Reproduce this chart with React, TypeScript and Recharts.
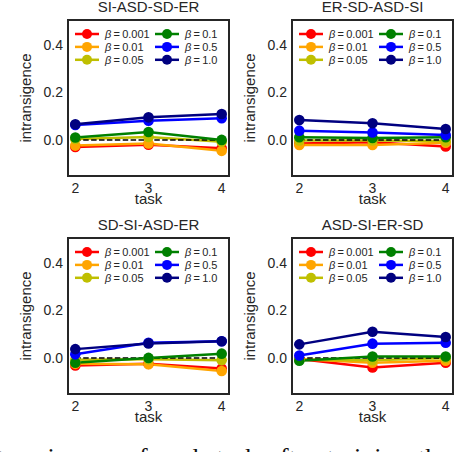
import { LineChart, Line, XAxis, YAxis, ReferenceArea, Legend } from "recharts";

// Matplotlib / seaborn-white look, literal colours for Recharts.
const INK = "#262626";
const SANS = "'Liberation Sans', Arial, sans-serif";

const TASKS = [2, 3, 4];
const BETAS = ["0.001", "0.01", "0.05", "0.1", "0.5", "1.0"];
const COLORS = ["#FF0000", "#FFA500", "#BFBF00", "#008000", "#0000FF", "#000080"];
const BASELINE = [0, 0, 0];

// rows: beta 0.001, 0.01, 0.05, 0.1, 0.5, 1.0 ; columns: task 2, 3, 4
const SI_ASD_SD_ER = [
  [-0.03, -0.02, -0.035],
  [-0.024, -0.015, -0.046],
  [0.004, 0.012, -0.008],
  [0.01, 0.033, 0.0],
  [0.063, 0.081, 0.091],
  [0.066, 0.095, 0.109],
];
const ER_SD_ASD_SI = [
  [-0.015, -0.01, -0.028],
  [-0.021, -0.021, -0.012],
  [-0.002, -0.002, -0.005],
  [0.011, 0.008, 0.011],
  [0.039, 0.031, 0.021],
  [0.084, 0.07, 0.046],
];
const SD_SI_ASD_ER = [
  [-0.032, -0.025, -0.045],
  [-0.025, -0.027, -0.055],
  [-0.008, -0.006, -0.01],
  [-0.02, 0.0, 0.018],
  [0.015, 0.064, 0.07],
  [0.037, 0.061, 0.07],
];
const ASD_SI_ER_SD = [
  [-0.005, -0.04, -0.02],
  [-0.005, -0.02, -0.012],
  [-0.008, -0.01, 0.0],
  [-0.012, 0.006, 0.006],
  [0.01, 0.06, 0.064],
  [0.057, 0.11, 0.088],
];

const PANELS = [
  { title: "SI-ASD-SD-ER", values: SI_ASD_SD_ER, left: 0, top: 0 },
  { title: "ER-SD-ASD-SI", values: ER_SD_ASD_SI, left: 224, top: 0 },
  { title: "SD-SI-ASD-ER", values: SD_SI_ASD_ER, left: 0, top: 218 },
  { title: "ASD-SI-ER-SD", values: ASD_SI_ER_SD, left: 224, top: 218 },
];

const X_DOMAIN: [number, number] = [1.9, 4.1];
const Y_DOMAIN: [number, number] = [-0.152, 0.505];

function toRows(values: number[][]) {
  return TASKS.map((task, i) => {
    const row: Record<string, number> = { task, zero: BASELINE[i] };
    values.forEach((series, b) => {
      row[`b${b}`] = series[i];
    });
    return row;
  });
}

function LegendBox({ payload }: any) {
  const items = (payload ?? []).filter((p: any) => p.dataKey !== "zero");
  return (
    <svg width={161} height={50} style={{ display: "block" }}>
      {items.map((item: any, i: number) => {
        const col = Math.floor(i / 3);
        const row = i % 3;
        const x0 = col === 0 ? 7 : 87;
        const y = 14 + row * 12.9;
        return (
          <g key={item.value}>
            <line x1={x0} x2={x0 + 24} y1={y} y2={y} stroke={item.color} strokeWidth={2.5} />
            <circle cx={x0 + 12} cy={y} r={5} fill={item.color} />
            <text
              x={x0 + 30}
              y={y}
              dominantBaseline="central"
              fontFamily={SANS}
              fontSize={11}
              fill={INK}
            >
              <tspan fontStyle="italic">β</tspan>
              {"\u2009=\u2009" + item.value}
            </text>
          </g>
        );
      })}
    </svg>
  );
}

function Panel({ title, values, left, top }: (typeof PANELS)[number]) {
  const data = toRows(values);
  return (
    <div style={{ position: "absolute", left, top, width: 232, height: 220 }}>
      <div
        style={{
          position: "absolute",
          left: 68,
          top: -0.7,
          width: 161,
          textAlign: "center",
          fontFamily: SANS,
          fontSize: 15,
          lineHeight: "15px",
          color: INK,
          whiteSpace: "nowrap",
        }}
      >
        {title}
      </div>
      <LineChart width={232} height={220} data={data} margin={{ top: 20, right: 3, bottom: 0, left: 0 }}>
        <XAxis
          dataKey="task"
          type="number"
          domain={X_DOMAIN}
          ticks={TASKS}
          allowDataOverflow
          height={44}
          axisLine={false}
          tickLine={false}
          tickSize={0}
          tickMargin={7}
          tick={{ fill: INK, fontSize: 14, fontFamily: SANS }}
          label={(props: any) => {
            const vb = props.viewBox;
            return (
              <text x={vb.x + vb.width / 2} y={vb.y + 28} textAnchor="middle" fontFamily={SANS} fontSize={15} fill={INK}>
                task
              </text>
            );
          }}
        />
        <YAxis
          type="number"
          domain={Y_DOMAIN}
          ticks={[0, 0.2, 0.4]}
          allowDataOverflow
          width={68}
          axisLine={false}
          tickLine={false}
          tickSize={0}
          tickMargin={5}
          tickFormatter={(v: number) => v.toFixed(1)}
          tick={{ fill: INK, fontSize: 14, fontFamily: SANS }}
          label={(props: any) => {
            const vb = props.viewBox;
            const cy = vb.y + vb.height / 2;
            return (
              <text
                transform={`translate(31, ${cy}) rotate(-90)`}
                textAnchor="middle"
                fontFamily={SANS}
                fontSize={15}
                fill={INK}
              >
                intransigence
              </text>
            );
          }}
        />
        {BETAS.slice(0, 3).map((beta, b) => (
          <Line
            key={beta}
            dataKey={`b${b}`}
            name={beta}
            stroke={COLORS[b]}
            strokeWidth={2.5}
            dot={{ r: 5.3, fill: COLORS[b], stroke: "none" }}
            isAnimationActive={false}
          />
        ))}
        <Line
          dataKey="zero"
          legendType="none"
          stroke="#000"
          strokeWidth={1.5}
          strokeDasharray="5.5 2.4"
          dot={false}
          isAnimationActive={false}
        />
        {BETAS.slice(3).map((beta, j) => {
          const b = j + 3;
          return (
            <Line
              key={beta}
              dataKey={`b${b}`}
              name={beta}
              stroke={COLORS[b]}
              strokeWidth={2.5}
              dot={{ r: 5.3, fill: COLORS[b], stroke: "none" }}
              isAnimationActive={false}
            />
          );
        })}
        <ReferenceArea
          x1={X_DOMAIN[0]}
          x2={X_DOMAIN[1]}
          y1={Y_DOMAIN[0]}
          y2={Y_DOMAIN[1]}
          fill="none"
          stroke={INK}
          strokeWidth={2}
          ifOverflow="visible"
        />
        <Legend
          layout="horizontal"
          verticalAlign="middle"
          align="center"
          content={<LegendBox />}
          wrapperStyle={{ left: 68, top: 20, width: 161, height: 50 }}
        />
      </LineChart>
    </div>
  );
}

export default function App() {
  return (
    <div
      style={{
        position: "fixed",
        left: 0,
        top: 0,
        width: 454,
        height: 452,
        overflow: "hidden",
        background: "#fff",
      }}
    >
      {PANELS.map((p) => (
        <Panel key={p.title} {...p} />
      ))}
      <div
        style={{
          position: "absolute",
          left: -3,
          top: 444.5,
          fontFamily: "'Liberation Serif', 'Times New Roman', serif",
          fontSize: 26,
          lineHeight: "26px",
          color: "#111",
          whiteSpace: "nowrap",
          wordSpacing: 4,
        }}
      >
        transigence of each task after training the
      </div>
    </div>
  );
}
